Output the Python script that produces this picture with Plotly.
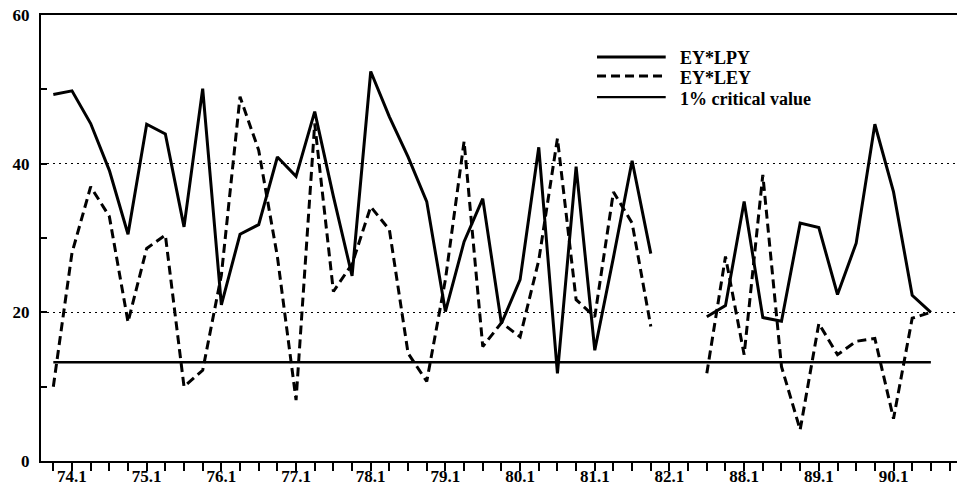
import plotly.graph_objects as go

# ---- data ----
periods = ["73.4",
           "74.1", "74.2", "74.3", "74.4", "75.1", "75.2", "75.3", "75.4",
           "76.1", "76.2", "76.3", "76.4", "77.1", "77.2", "77.3", "77.4",
           "78.1", "78.2", "78.3", "78.4", "79.1", "79.2", "79.3", "79.4",
           "80.1", "80.2", "80.3", "80.4", "81.1", "81.2", "81.3", "81.4",
           "82.1", "82.2",
           "87.3", "87.4",
           "88.1", "88.2", "88.3", "88.4", "89.1", "89.2", "89.3", "89.4",
           "90.1", "90.2", "90.3", "90.4"]

ey_lpy = [49.3, 49.8, 45.4, 39.1, 30.5, 45.3, 44.0, 31.5, 50.1,
          21.0, 30.5, 31.8, 40.9, 38.3, 47.0, 35.6, 24.9,
          52.4, 46.3, 40.9, 34.9, 20.1, 29.5, 35.3, 18.5,
          24.4, 42.2, 11.8, 39.6, 14.9, 27.4, 40.4, 27.9,
          None, None,
          19.4, 20.9,
          34.9, 19.3, 18.8, 32.0, 31.4, 22.4, 29.3, 45.3,
          36.2, 22.3, 20.0, None]

ey_ley = [10.0, 28.0, 36.9, 32.9, 18.7, 28.6, 30.4, 10.0, 12.2,
          25.0, 49.0, 41.8, 27.5, 8.2, 45.4, 22.8, 26.5,
          34.2, 31.1, 14.5, 10.7, 24.4, 43.0, 15.4, 18.6,
          16.7, 27.0, 43.4, 21.7, 19.4, 36.2, 32.0, 18.1,
          None, None,
          11.8, 27.5,
          14.3, 38.5, 12.7, 4.2, 18.5, 14.3, 16.1, 16.5,
          5.7, 19.2, 20.0, None]

critical_value = 13.3
crit_span = ["73.4", "90.3"]

y_tick_values = [0, 20, 40, 60]
y_tick_labels = ["0", "20", "40", "60"]

legend_names = ["EY*LPY", "EY*LEY", "1% critical value"]

# ---- figure ----
FONT = "Liberation Serif"
fig = go.Figure()

fig.add_trace(go.Scatter(x=periods, y=ey_lpy, mode="lines", name=legend_names[0],
                         line=dict(color="black", width=3), connectgaps=False,
                         showlegend=False))
fig.add_trace(go.Scatter(x=periods, y=ey_ley, mode="lines", name=legend_names[1],
                         line=dict(color="black", width=3, dash="9px,5px"),
                         connectgaps=False, showlegend=False))
fig.add_trace(go.Scatter(x=crit_span, y=[critical_value] * len(crit_span), mode="lines",
                         name=legend_names[2], line=dict(color="black", width=2.5),
                         showlegend=False))

tick_text = [p if p.endswith(".1") else "" for p in periods]

fig.update_xaxes(
    type="category",
    categoryorder="array", categoryarray=periods,
    range=[-0.66, 48.4],
    tickmode="array", tickvals=periods, ticktext=tick_text,
    ticks="outside", ticklen=8, tickwidth=1.5, tickcolor="black",
    showline=True, linecolor="black", linewidth=2, mirror=True,
    showgrid=False, zeroline=False,
    automargin=False,
    ticklabelstandoff=-9,
    tickfont=dict(family=FONT, size=17, color="black", weight="bold"),
)

fig.update_yaxes(
    range=[0, 60],
    tickmode="array", tickvals=y_tick_values, ticktext=y_tick_labels,
    ticks="inside", ticklen=6, tickwidth=1.5, tickcolor="black",
    minor=dict(dtick=10, ticks="inside", ticklen=6, tickwidth=1.5, tickcolor="black",
               showgrid=False),
    showline=True, linecolor="black", linewidth=2, mirror=False,
    showgrid=True, gridcolor="black", gridwidth=1.2, griddash="2px,4px",
    zeroline=False,
    automargin=False,
    ticklabelstandoff=6,
    tickfont=dict(family=FONT, size=17, color="black", weight="bold"),
)

# custom legend (sample lines + labels) in the upper right
legend_rows = [
    dict(y=0.906, ty=0.903, dash="solid", width=3),
    dict(y=0.863, ty=0.859, dash="9px,5px", width=3),
    dict(y=0.816, ty=0.812, dash="solid", width=2.2),
]
for name, row in zip(legend_names, legend_rows):
    fig.add_shape(type="line", xref="paper", yref="paper",
                  x0=0.607, x1=0.682, y0=row["y"], y1=row["y"],
                  line=dict(color="black", width=row["width"], dash=row["dash"]))
    fig.add_annotation(xref="paper", yref="paper", x=0.695, y=row["ty"],
                       xanchor="left", yanchor="middle", showarrow=False,
                       text=name, font=dict(family=FONT, size=18, color="black",
                                            weight="bold"))

fig.update_layout(
    width=957, height=489,
    margin=dict(l=41, r=0, t=15, b=28),
    paper_bgcolor="white", plot_bgcolor="white",
    showlegend=False,
)

fig.write_html("out.html",
               config={"displayModeBar": False},
               post_script="document.body.style.margin='0';document.body.style.padding='0';")
